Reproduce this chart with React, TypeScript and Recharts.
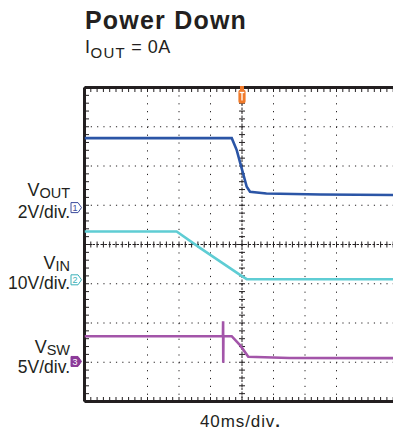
import React from "react";
import { CartesianGrid, Line, LineChart, ReferenceLine, XAxis, YAxis } from "recharts";

// time axis in ms, 40 ms/div, trigger at t = 0
const T_TICKS = [-200, -160, -120, -80, -40, 0, 40, 80, 120, 160, 200];
const DIV_TICKS = [0, 1, 2, 3, 4, 5, 6, 7, 8];

// VOUT (V)
const VOUT_T = [-200, -13, -6.7, -0.4, 6, 10.2, 31, 100, 200];
const VOUT_V = [3.54, 3.54, 2.93, 2.0, 1.06, 0.81, 0.72, 0.67, 0.64];

// VIN (V)
const VIN_T = [-200, -83, -53.4, -24.2, -2.5, 6, 60, 200];
const VIN_V = [12.3, 12.3, 8.15, 4.2, 1.27, 0.18, 0.13, 0.13];

// VSW (V)
const VSW_T = [-200, -24.2, -24, -23.8, -23.6, -13.1, -2.5, 8, 60, 200];
const VSW_V = [3.22, 3.22, 5.13, -0.15, 3.22, 3.22, 2.08, 0.59, 0.45, 0.42];

const INK = "#231f20";
const FONT = "'Liberation Sans', Arial, sans-serif";

const zip = (t: number[], v: number[]) => t.map((x, i) => ({ t: x, v: v[i] }));

const CHANNELS = [
  {
    id: "ch1", num: "1", sub: "OUT", scale: "2V/div.", vpd: 2, gnd: 4.94,
    color: "#2b55a6", mark: "#3c4c9c", filled: false, dyName: -12, dyScale: 10.5,
    data: zip(VOUT_T, VOUT_V),
  },
  {
    id: "ch2", num: "2", sub: "IN", scale: "10V/div.", vpd: 10, gnd: 3.1,
    color: "#5fcdd4", mark: "#3bb0b8", filled: false, dyName: -11, dyScale: 9.5,
    data: zip(VIN_T, VIN_V),
  },
  {
    id: "ch3", num: "3", sub: "SW", scale: "5V/div.", vpd: 5, gnd: 1.02,
    color: "#a355a9", mark: "#8b3a98", filled: true, dyName: -8.5, dyScale: 12,
    data: zip(VSW_T, VSW_V),
  },
];

// a graticule line with minor ticks every 1/5 division (drawn from the label viewBox)
function TickedLine(props: any) {
  const { viewBox, n, a, b, width, dash } = props;
  if (!viewBox) return null;
  const { x, y, width: w = 0, height: h = 0 } = viewBox;
  const horiz = w > h;
  const x1 = x;
  const y1 = y;
  const x2 = horiz ? x + w : x;
  const y2 = horiz ? y : y + h;
  const ticks = [];
  for (let i = 0; i <= n; i++) {
    const px = x1 + ((x2 - x1) * i) / n;
    const py = y1 + ((y2 - y1) * i) / n;
    ticks.push(
      horiz ? (
        <line key={i} x1={px} x2={px} y1={py + a} y2={py + b} />
      ) : (
        <line key={i} x1={px + a} x2={px + b} y1={py} y2={py} />
      ),
    );
  }
  return (
    <g stroke={INK}>
      <line x1={x1} y1={y1} x2={x2} y2={y2} strokeWidth={width} strokeDasharray={dash} />
      <g strokeWidth={1}>{ticks}</g>
    </g>
  );
}

function TriggerMark(props: any) {
  const { viewBox } = props;
  if (!viewBox) return null;
  const x = viewBox.x;
  const top = viewBox.y;
  return (
    <g>
      <rect x={x - 2} y={top - 1.5} width={4} height={4} fill="#f07a2a" />
      <rect x={x - 3.6} y={top + 2} width={7.2} height={14} rx={2.5} fill="#f07a2a" />
      <g stroke="#fff" strokeWidth={1.3}>
        <line x1={x - 2.3} x2={x + 2.3} y1={top + 5} y2={top + 5} />
        <line x1={x} x2={x} y1={top + 5} y2={top + 13} />
      </g>
    </g>
  );
}

function ChannelMarker(props: any) {
  const { viewBox, ch } = props;
  if (!viewBox) return null;
  const x = viewBox.x;
  const y = viewBox.y;
  const pts = `${x - 13.5},${y - 5} ${x - 6.5},${y - 5} ${x - 3},${y} ${x - 6.5},${y + 5} ${x - 13.5},${y + 5}`;
  return (
    <g fontFamily={FONT}>
      <polygon
        points={pts}
        fill={ch.filled ? ch.mark : "#fff"}
        stroke={ch.mark}
        strokeWidth={1}
      />
      <text x={x - 9.5} y={y + 3.3} fontSize={9} textAnchor="middle" fill={ch.filled ? "#fff" : ch.mark}>
        {ch.num}
      </text>
      <text x={x - 14.5} y={y + ch.dyName} textAnchor="end" fill={INK}>
        <tspan fontSize={18}>V</tspan>
        <tspan fontSize={14.5} dy={2.5}>{ch.sub}</tspan>
      </text>
      <text x={x - 14.5} y={y + ch.dyScale} textAnchor="end" fontSize={17.5} fill={INK}>
        {ch.scale}
      </text>
    </g>
  );
}

export default function App() {
  return (
    <div
      style={{
        position: "absolute",
        left: 0,
        top: 0,
        width: 393,
        height: 435,
        overflow: "hidden",
        background: "#fff",
      }}
    >
      <LineChart
        width={400}
        height={435}
        margin={{ top: 87.5, right: 0.5, bottom: 33.5, left: 84.5 }}
      >
        <XAxis
          type="number"
          dataKey="t"
          domain={[-200, 200]}
          ticks={T_TICKS}
          allowDataOverflow
          hide
        />
        <YAxis yAxisId="div" type="number" domain={[0, 8]} ticks={DIV_TICKS} allowDataOverflow hide />
        {CHANNELS.map((ch) => (
          <YAxis
            key={ch.id}
            yAxisId={ch.id}
            type="number"
            domain={[-ch.gnd * ch.vpd, (8 - ch.gnd) * ch.vpd]}
            allowDataOverflow
            hide
          />
        ))}
        <CartesianGrid yAxisId="div" vertical={false} stroke={INK} strokeDasharray="1.2 5.09" />
        <CartesianGrid yAxisId="div" horizontal={false} stroke={INK} strokeDasharray="1.2 6.65" />

        <ReferenceLine
          x={0}
          yAxisId="div"
          stroke="none"
          label={(p: any) => <TickedLine {...p} n={40} a={-3} b={3} width={1} dash="2.5 1.5" />}
        />
        <ReferenceLine
          y={4}
          yAxisId="div"
          stroke="none"
          label={(p: any) => <TickedLine {...p} n={50} a={-3} b={3} width={1} dash="2.5 1.5" />}
        />
        <ReferenceLine
          y={8}
          yAxisId="div"
          stroke="none"
          label={(p: any) => <TickedLine {...p} n={50} a={0} b={4.5} width={3} />}
        />
        <ReferenceLine
          y={0}
          yAxisId="div"
          stroke="none"
          label={(p: any) => <TickedLine {...p} n={50} a={-4.5} b={0} width={3} />}
        />
        <ReferenceLine
          x={-200}
          yAxisId="div"
          stroke="none"
          label={(p: any) => <TickedLine {...p} n={40} a={0} b={4.5} width={3} />}
        />

        {CHANNELS.map((ch) => (
          <Line
            key={ch.id}
            data={ch.data}
            yAxisId={ch.id}
            dataKey="v"
            type="linear"
            stroke={ch.color}
            strokeWidth={2.6}
            dot={false}
            isAnimationActive={false}
          />
        ))}

        {CHANNELS.map((ch) => (
          <ReferenceLine
            key={ch.id + "m"}
            y={0}
            yAxisId={ch.id}
            stroke="none"
            label={(p: any) => <ChannelMarker {...p} ch={ch} />}
          />
        ))}
        <ReferenceLine
          x={0}
          yAxisId="div"
          stroke="none"
          label={(p: any) => <TriggerMark {...p} />}
        />
      </LineChart>

      <svg
        width={393}
        height={435}
        style={{ position: "absolute", left: 0, top: 0, pointerEvents: "none" }}
        fontFamily={FONT}
        fill={INK}
      >
        <text x={85} y={28.5} fontSize={25} fontWeight="bold" letterSpacing={1.2}>
          Power Down
        </text>
        <text x={85} y={53.3} fontSize={18} letterSpacing={0.5}>
          <tspan>I</tspan>
          <tspan fontSize={15} dy={5} letterSpacing={1.2}>OUT</tspan>
          <tspan dy={-5}> = 0A</tspan>
        </text>
        <text x={200} y={426.7} fontSize={17} letterSpacing={0.9}>
          40ms/div<tspan fontWeight="bold">.</tspan>
        </text>
      </svg>
    </div>
  );
}
